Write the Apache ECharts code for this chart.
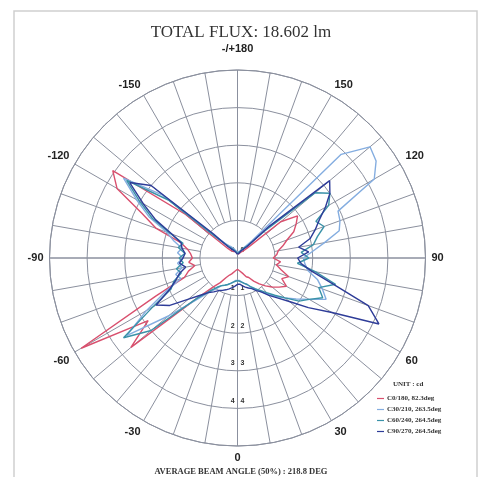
<!DOCTYPE html>
<html>
<head>
<meta charset="utf-8">
<script src="https://cdn.jsdelivr.net/npm/echarts@6.0.0/dist/echarts.min.js"></script>
<style>
  html, body { margin: 0; padding: 0; background: #fff; }
  #chart { width: 482px; height: 477px; }
</style>
</head>
<body>
<div id="chart"></div>
<script>
// angles in degrees, 0 = down, +90 = right, -90 = left, +/-180 = up
var angles = [];
for (var a = -180; a <= 180; a += 5) angles.push(a);

var seriesNames = ['C0/180, 82.3deg', 'C30/210, 263.5deg', 'C60/240, 264.5deg', 'C90/270, 264.5deg'];

// intensity in cd, one value per angle above (-180 ... 180)
var c0 = [
  0.10, 0.12, 0.15, 0.18, 0.20, 0.22, 0.20, 0.22, 0.25, 0.35, 1.80, 4.05, 3.70, 2.80, 2.30, 1.55, 1.35, 1.25,
  1.20, 1.30, 1.15, 1.35, 1.50, 2.40, 4.80, 2.90, 3.70, 1.50, 1.00, 0.80, 0.60, 0.50, 0.45, 0.40, 0.35, 0.30,
  0.30,
  0.30, 0.35, 0.40, 0.45, 0.55, 0.60, 0.75, 0.90, 1.05, 1.20, 1.35, 1.50, 1.30, 1.45, 1.20, 1.05, 1.15, 0.95,
  1.05, 1.10, 1.25, 1.40, 1.65, 1.80, 1.95, 1.50, 0.40, 0.25, 0.20, 0.18, 0.15, 0.12, 0.12, 0.10, 0.10, 0.10
];
var c30 = [
  0.15, 0.15, 0.18, 0.20, 0.25, 0.30, 0.35, 0.40, 0.50, 0.80, 2.60, 3.70, 3.10, 2.60, 2.00, 1.75, 1.50, 1.60,
  1.45, 1.60, 1.50, 1.70, 1.60, 2.10, 2.80, 3.60, 2.40, 1.60, 1.20, 1.00, 0.85, 0.80, 0.75, 0.70, 0.65, 0.60,
  0.60,
  0.60, 0.65, 0.70, 0.75, 0.85, 0.95, 1.10, 1.25, 1.45, 1.65, 1.90, 2.20, 2.60, 2.40, 2.20, 1.90, 1.80, 1.75,
  2.00, 2.35, 2.80, 2.90, 2.95, 4.20, 4.50, 4.60, 3.90, 0.60, 0.40, 0.30, 0.25, 0.20, 0.18, 0.15, 0.15, 0.15
];
var c60 = [
  0.12, 0.12, 0.15, 0.18, 0.20, 0.25, 0.30, 0.35, 0.45, 0.70, 2.40, 3.60, 3.00, 2.50, 1.90, 1.50, 1.60, 1.40,
  1.55, 1.45, 1.65, 1.55, 1.80, 1.95, 2.60, 3.70, 3.00, 1.50, 1.15, 0.95, 0.85, 0.80, 0.75, 0.70, 0.65, 0.62,
  0.60,
  0.62, 0.65, 0.70, 0.75, 0.85, 0.95, 1.05, 1.20, 1.40, 1.65, 2.00, 2.20, 2.50, 2.30, 2.70, 2.10, 1.60, 1.90,
  1.70, 2.05, 2.20, 2.45, 2.30, 2.80, 3.00, 2.70, 1.00, 0.45, 0.35, 0.28, 0.22, 0.18, 0.15, 0.12, 0.12, 0.12
];
var c90 = [
  0.10, 0.10, 0.12, 0.15, 0.18, 0.20, 0.25, 0.30, 0.40, 0.90, 3.00, 3.50, 2.90, 2.40, 1.85, 1.55, 1.50, 1.40,
  1.45, 1.55, 1.40, 1.60, 1.75, 2.00, 2.50, 2.20, 1.70, 1.40, 1.20, 1.10, 1.00, 0.95, 0.90, 0.85, 0.80, 0.75,
  0.70,
  0.70, 0.75, 0.80, 0.85, 0.90, 1.00, 1.10, 1.30, 1.50, 1.80, 2.30, 2.90, 4.15, 3.70, 2.60, 2.00, 1.70, 1.60,
  1.90, 1.65, 2.00, 2.20, 2.40, 2.70, 3.00, 3.20, 1.20, 0.40, 0.30, 0.25, 0.20, 0.15, 0.12, 0.10, 0.10, 0.10
];
var colors = ['#d9506e', '#84ade0', '#3a92a8', '#2e3c98'];

var radiusTicks = [0, 1, 2, 3, 4, 5];

function toPolar(values) {
  var out = [];
  for (var i = 0; i < angles.length; i++) {
    var a = angles[i] < 0 ? angles[i] + 360 : angles[i];
    out.push([values[i], a]);
  }
  return out;
}

var gridColor = '#8b909e';
var center = [237.5, 258];
var outerR = 188;

let myChart = echarts.init(document.getElementById('chart'));

let option = {
  backgroundColor: '#fff',
  animation: false,
  color: colors,
  title: [{
    text: 'TOTAL FLUX: 18.602 lm',
    left: 'center',
    top: 19,
    textStyle: { fontFamily: 'Liberation Serif', fontSize: 17, fontWeight: 'normal', color: '#333' }
  }, {
    text: 'AVERAGE BEAM ANGLE (50%) : 218.8 DEG',
    left: 'center',
    top: 462,
    textStyle: { fontFamily: 'Liberation Serif', fontSize: 8.5, fontWeight: 'bold', color: '#333' }
  }, {
    text: 'UNIT : cd',
    left: 388,
    top: 376,
    textStyle: { fontFamily: 'Liberation Serif', fontSize: 7, fontWeight: 'bold', color: '#333' }
  }],
  legend: {
    data: seriesNames,
    orient: 'vertical',
    left: 372,
    top: 390,
    icon: 'rect',
    itemWidth: 7,
    itemHeight: 1.2,
    itemGap: 4,
    textStyle: { fontFamily: 'Liberation Serif', fontSize: 7, fontWeight: 'bold', color: '#333', padding: [0, 0, 0, -2] }
  },
  graphic: [{
    type: 'rect',
    shape: { x: 14, y: 11, width: 463, height: 480 },
    style: { fill: 'none', stroke: '#cfcfcf', lineWidth: 1.5 },
    silent: true
  }],
  polar: [
    { center: center, radius: [0, outerR] },
    { center: center, radius: [outerR / 5, outerR] }
  ],
  angleAxis: [{
    polarIndex: 0,
    type: 'value',
    min: 0,
    max: 360,
    interval: 90,
    startAngle: 270,
    clockwise: false,
    axisLine: { show: true, lineStyle: { color: gridColor, width: 1 } },
    axisTick: { show: false },
    axisLabel: { show: false },
    splitLine: { show: true, lineStyle: { color: gridColor, width: 1 } }
  }, {
    polarIndex: 1,
    type: 'value',
    min: 0,
    max: 360,
    interval: 10,
    startAngle: 270,
    clockwise: false,
    axisLine: { show: false },
    axisTick: { show: false },
    axisLabel: {
      margin: 6,
      fontFamily: 'Liberation Sans',
      fontSize: 11,
      fontWeight: 'bold',
      color: '#222',
      formatter: function (v) {
        if (v === 360 || v % 30 !== 0) return '';
        if (v === 180) return '{top|-/+180}';
        return v > 180 ? String(v - 360) : String(v);
      },
      rich: { top: { fontFamily: 'Liberation Sans', fontSize: 11, fontWeight: 'bold', color: '#222', padding: [0, 0, 10, 0] } }
    },
    splitLine: { show: true, lineStyle: { color: gridColor, width: 1 } }
  }],
  radiusAxis: [{
    polarIndex: 0,
    type: 'value',
    min: radiusTicks[0],
    max: radiusTicks[radiusTicks.length - 1],
    interval: 1,
    axisLine: { show: false },
    axisTick: { show: false },
    axisLabel: {
      margin: 0,
      align: 'center',
      verticalAlign: 'bottom',
      padding: [0, 0, 4, 0],
      fontSize: 7,
      fontWeight: 'bold',
      color: '#333',
      formatter: function (v) {
        if (v === radiusTicks[radiusTicks.length - 1]) return '';
        return v + '   ' + v;
      }
    },
    splitLine: { show: true, lineStyle: { color: gridColor, width: 1 } }
  }, {
    polarIndex: 1,
    type: 'value',
    min: 0,
    max: 5,
    show: false
  }],
  series: [c0, c30, c60, c90].map(function (vals, i) {
    return {
      name: seriesNames[i],
      type: 'line',
      coordinateSystem: 'polar',
      polarIndex: 0,
      symbol: 'none',
      lineStyle: { width: 1.4, color: colors[i] },
      data: toPolar(vals)
    };
  })
};

myChart.setOption(option);
</script>
</body>
</html>
